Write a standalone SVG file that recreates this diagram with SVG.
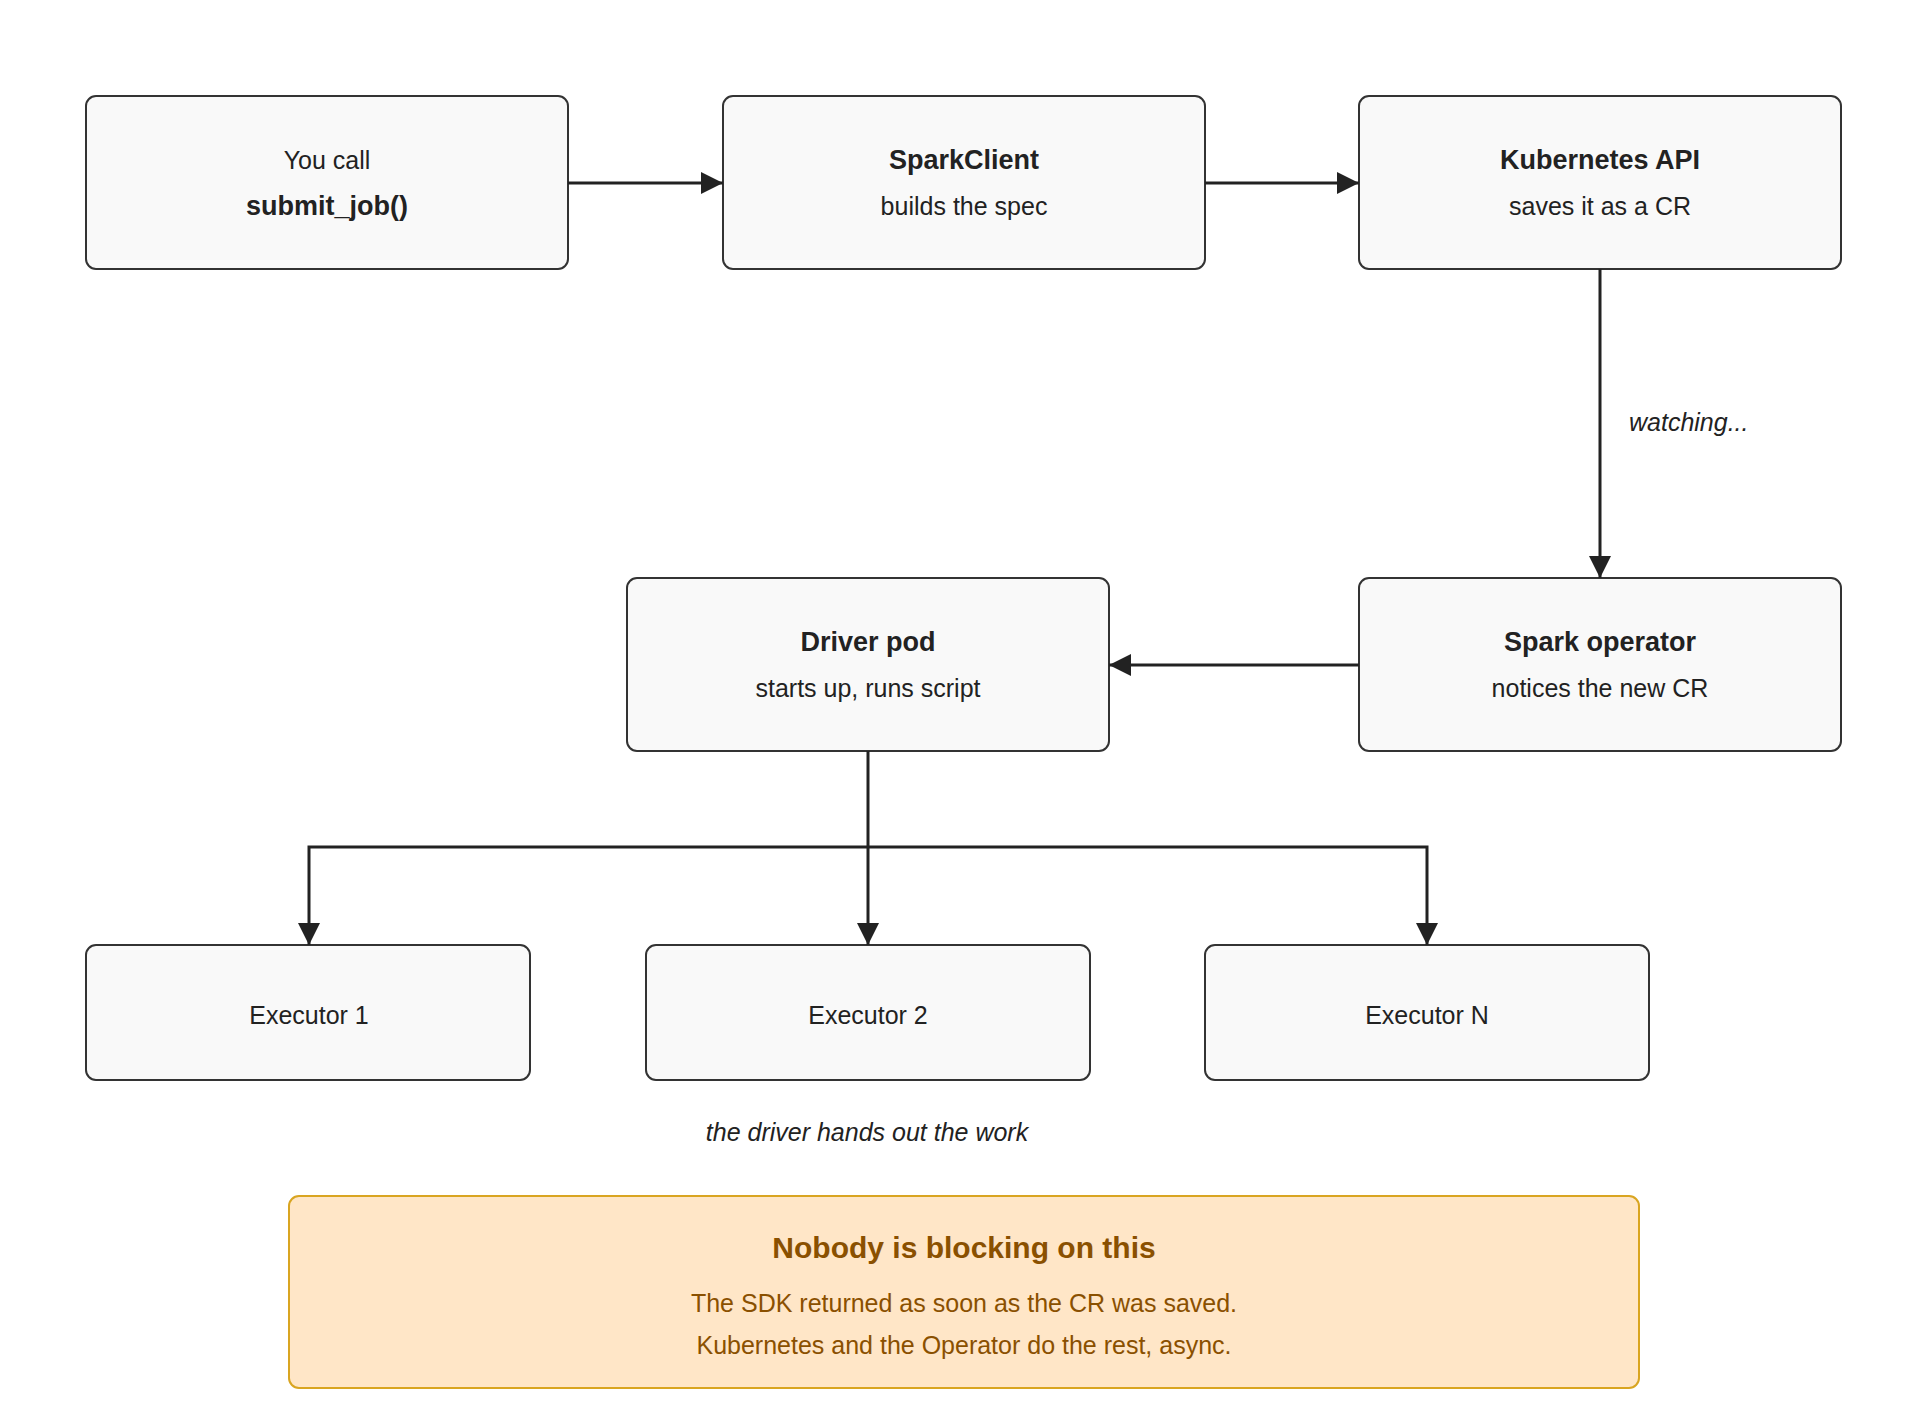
<svg xmlns="http://www.w3.org/2000/svg" width="1920" height="1421" viewBox="0 0 1920 1421">
<defs>
<marker id="ah" viewBox="0 0 10 10" refX="10" refY="5" markerWidth="10" markerHeight="10" markerUnits="userSpaceOnUse" orient="auto"><path d="M0,0 L10,5 L0,10 z" fill="#222"/></marker>
<marker id="a" viewBox="0 0 12 12" refX="12" refY="6" markerWidth="24" markerHeight="22" markerUnits="userSpaceOnUse" orient="auto"><path d="M0,0 L12,6 L0,12 z" fill="#222"/></marker>
<style>
.n{fill:#f9f9f9;stroke:#333;stroke-width:2}
text{font-family:"Liberation Sans",Arial,sans-serif;fill:#222;text-anchor:middle}
.b{font-weight:bold;font-size:27px}
.r{font-size:25px}
.i{font-style:italic;font-size:25px}
.c{stroke:#222;stroke-width:3;fill:none}
</style>
</defs>
<rect width="1920" height="1421" fill="#fff"/>
<g id="n1"><rect class="n" x="86" y="96" width="482" height="173" rx="10"/><text class="r" x="327" y="169">You call</text><text class="b" x="327" y="215">submit_job()</text></g>
<g id="n2"><rect class="n" x="723" y="96" width="482" height="173" rx="10"/><text class="b" x="964" y="169">SparkClient</text><text class="r" x="964" y="215">builds the spec</text></g>
<g id="n3"><rect class="n" x="1359" y="96" width="482" height="173" rx="10"/><text class="b" x="1600" y="169">Kubernetes API</text><text class="r" x="1600" y="215">saves it as a CR</text></g>
<g id="n4"><rect class="n" x="1359" y="578" width="482" height="173" rx="10"/><text class="b" x="1600" y="651">Spark operator</text><text class="r" x="1600" y="697">notices the new CR</text></g>
<g id="n5"><rect class="n" x="627" y="578" width="482" height="173" rx="10"/><text class="b" x="868" y="651">Driver pod</text><text class="r" x="868" y="697">starts up, runs script</text></g>
<g id="e1"><rect class="n" x="86" y="945" width="444" height="135" rx="10"/><text class="r" x="309" y="1024">Executor 1</text></g>
<g id="e2"><rect class="n" x="646" y="945" width="444" height="135" rx="10"/><text class="r" x="868" y="1024">Executor 2</text></g>
<g id="e3"><rect class="n" x="1205" y="945" width="444" height="135" rx="10"/><text class="r" x="1427" y="1024">Executor N</text></g>
<g id="connectors">
<path class="c" d="M568,183 H723" marker-end="url(#a)"/>
<path class="c" d="M1205,183 H1359" marker-end="url(#a)"/>
<path class="c" d="M1600,269 V578" marker-end="url(#a)"/>
<path class="c" d="M1359,665 H1109" marker-end="url(#a)"/>
<path class="c" d="M868,751 V945" marker-end="url(#a)"/>
<path class="c" d="M868,847 H309 V945" marker-end="url(#a)"/>
<path class="c" d="M868,847 H1427 V945" marker-end="url(#a)"/>
<text class="i" x="1629" y="431" style="text-anchor:start">watching...</text>
</g>
<text class="i" x="867" y="1141">the driver hands out the work</text>
<g id="note"><rect x="289" y="1196" width="1350" height="192" rx="10" fill="#ffe6c7" stroke="#d9a521" stroke-width="2"/>
<text x="964" y="1258" style="font-weight:bold;font-size:30px;fill:#8a5000">Nobody is blocking on this</text>
<text x="964" y="1312" style="font-size:25px;fill:#8a5000">The SDK returned as soon as the CR was saved.</text>
<text x="964" y="1354" style="font-size:25px;fill:#8a5000">Kubernetes and the Operator do the rest, async.</text></g>
</svg>
